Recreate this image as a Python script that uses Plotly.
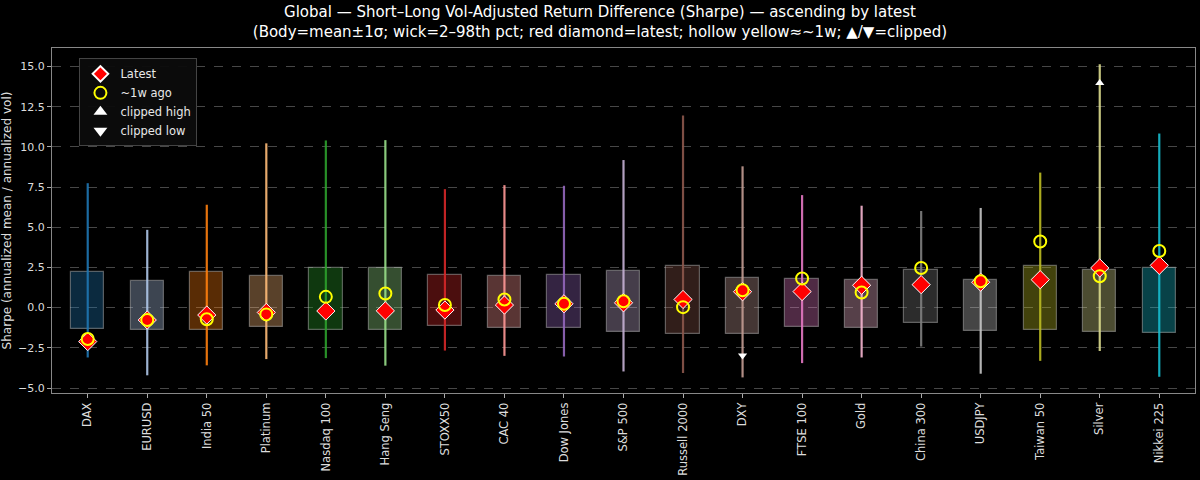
import plotly.graph_objects as go

categories = ["DAX", "EURUSD", "India 50", "Platinum", "Nasdaq 100", "Hang Seng", "STOXX50",
              "CAC 40", "Dow Jones", "S&P 500", "Russell 2000", "DXY", "FTSE 100", "Gold",
              "China 300", "USDJPY", "Taiwan 50", "Silver", "Nikkei 225"]
body_top = [2.22, 1.66, 2.22, 1.97, 2.47, 2.47, 2.05, 1.95, 2.01, 2.28, 2.57, 1.87, 1.81, 1.70,
            2.32, 1.70, 2.57, 2.36, 2.47]
body_bottom = [-1.35, -1.39, -1.39, -1.18, -1.39, -1.39, -1.12, -1.25, -1.25, -1.49, -1.66, -1.64,
               -1.18, -1.25, -0.98, -1.45, -1.39, -1.49, -1.55]
wick_high = [7.74, 4.84, 6.40, 10.22, 10.40, 10.42, 7.37, 7.62, 7.58, 9.18, 11.95, 8.79, 7.00, 6.34,
             6.01, 6.20, 8.40, 15.14, 10.83]
wick_low = [-3.10, -4.21, -3.59, -3.20, -3.14, -3.61, -2.67, -3.00, -3.04, -3.97, -4.07, -4.34,
            -3.45, -3.10, -2.42, -4.11, -3.31, -2.69, -4.30]
latest = [-2.11, -0.77, -0.46, -0.30, -0.21, -0.20, -0.15, 0.16, 0.24, 0.30, 0.51, 0.99, 1.00,
          1.39, 1.43, 1.58, 1.74, 2.47, 2.63]
week_ago = [-1.95, -0.77, -0.72, -0.42, 0.67, 0.88, 0.16, 0.51, 0.24, 0.40, 0.03, 1.08, 1.81, 0.94,
            2.47, 1.64, 4.11, 1.95, 3.52]
clipped_high_cats = ["Silver"]
clipped_high_vals = [13.97]
clipped_low_cats = ["DXY"]
clipped_low_vals = [-2.97]
colors = ["#1f77b4", "#aec7e8", "#ff7f0e", "#ffbb78", "#2ca02c", "#98df8a", "#d62728", "#ff9896",
          "#9467bd", "#c5b0d5", "#8c564b", "#c49c94", "#e377c2", "#f7b6d2", "#7f7f7f", "#c7c7c7",
          "#bcbd22", "#dbdb8d", "#17becf"]
y_ticks = [-5.0, -2.5, 0.0, 2.5, 5.0, 7.5, 10.0, 12.5, 15.0]


def rgba(h, a):
    h = h.lstrip("#")
    r, g, b = int(h[0:2], 16), int(h[2:4], 16), int(h[4:6], 16)
    return f"rgba({r},{g},{b},{a})"


fig = go.Figure()

# bodies
fig.add_trace(go.Bar(
    x=categories,
    y=[t - b for t, b in zip(body_top, body_bottom)],
    base=body_bottom,
    width=0.56,
    marker=dict(color=[rgba(c, 0.35) for c in colors],
                line=dict(color="rgba(190,190,190,0.45)", width=1.2)),
    showlegend=False, hoverinfo="skip",
))

# wicks
for c, lo, hi, col in zip(categories, wick_low, wick_high, colors):
    fig.add_trace(go.Scatter(
        x=[c, c], y=[lo, hi], mode="lines",
        line=dict(color=rgba(col, 0.9), width=2.2),
        showlegend=False, hoverinfo="skip",
    ))

fig.add_trace(go.Scatter(
    x=categories, y=latest, mode="markers", name="Latest",
    marker=dict(symbol="diamond", size=14, color="red", line=dict(color="white", width=1)),
))
fig.add_trace(go.Scatter(
    x=categories, y=week_ago, mode="markers", name="~1w ago",
    marker=dict(symbol="circle-open", size=12, color="yellow", line=dict(color="yellow", width=2)),
))
fig.add_trace(go.Scatter(
    x=clipped_high_cats, y=clipped_high_vals, mode="markers", name="clipped high",
    marker=dict(symbol="triangle-up", size=8, color="white"),
))
fig.add_trace(go.Scatter(
    x=clipped_low_cats, y=clipped_low_vals, mode="markers", name="clipped low",
    marker=dict(symbol="triangle-down", size=8, color="white"),
))

fig.update_layout(
    width=1200, height=480,
    paper_bgcolor="black", plot_bgcolor="black",
    font=dict(family="DejaVu Sans", color="#dddddd", size=12),
    margin=dict(l=52, r=4, t=48, b=85),
    title=dict(
        text="Global — Short–Long Vol-Adjusted Return Difference (Sharpe) — ascending by latest<br>"
             "(Body=mean±1σ; wick=2–98th pct; red diamond=latest; hollow yellow≈~1w; ▲/▼=clipped)",
        x=0.5, xanchor="center", y=0.964, yanchor="middle",
        font=dict(size=15, color="white"),
    ),
    legend=dict(
        x=0.024, y=0.97, xanchor="left", yanchor="top",
        bgcolor="rgba(12,12,12,0.95)", bordercolor="#444444", borderwidth=1,
        font=dict(size=11.5, color="#e8e8e8"), tracegroupgap=0, itemsizing="constant",
    ),
    showlegend=True,
    bargap=0,
)
fig.update_xaxes(
    type="category", range=[-0.6, 18.6], tickangle=-90,
    showgrid=False, showline=True, mirror=True, linecolor="#888888", linewidth=1,
    ticks="outside", ticklen=4, tickcolor="#aaaaaa", tickfont=dict(size=11.5, color="#dddddd"),
    zeroline=False,
)
fig.update_yaxes(
    range=[-5.31, 16.15], tickvals=y_ticks, tickformat=".1f",
    showgrid=True, gridcolor="rgba(130,130,130,0.55)", griddash="dash", gridwidth=1,
    showline=True, mirror=True, linecolor="#888888", linewidth=1,
    ticks="outside", ticklen=4, tickcolor="#aaaaaa", tickfont=dict(size=11, color="#dddddd"),
    zeroline=False,
    title=dict(text="Sharpe (annualized mean / annualized vol)", font=dict(size=12, color="#dddddd"), standoff=6),
)

fig.write_html(
    "out.html",
    config={"displayModeBar": False},
    post_script="document.body.style.margin='0';document.body.style.padding='0';"
                "document.body.style.background='black';document.body.style.overflow='hidden';"
                "window.scrollTo(0,0);",
)
